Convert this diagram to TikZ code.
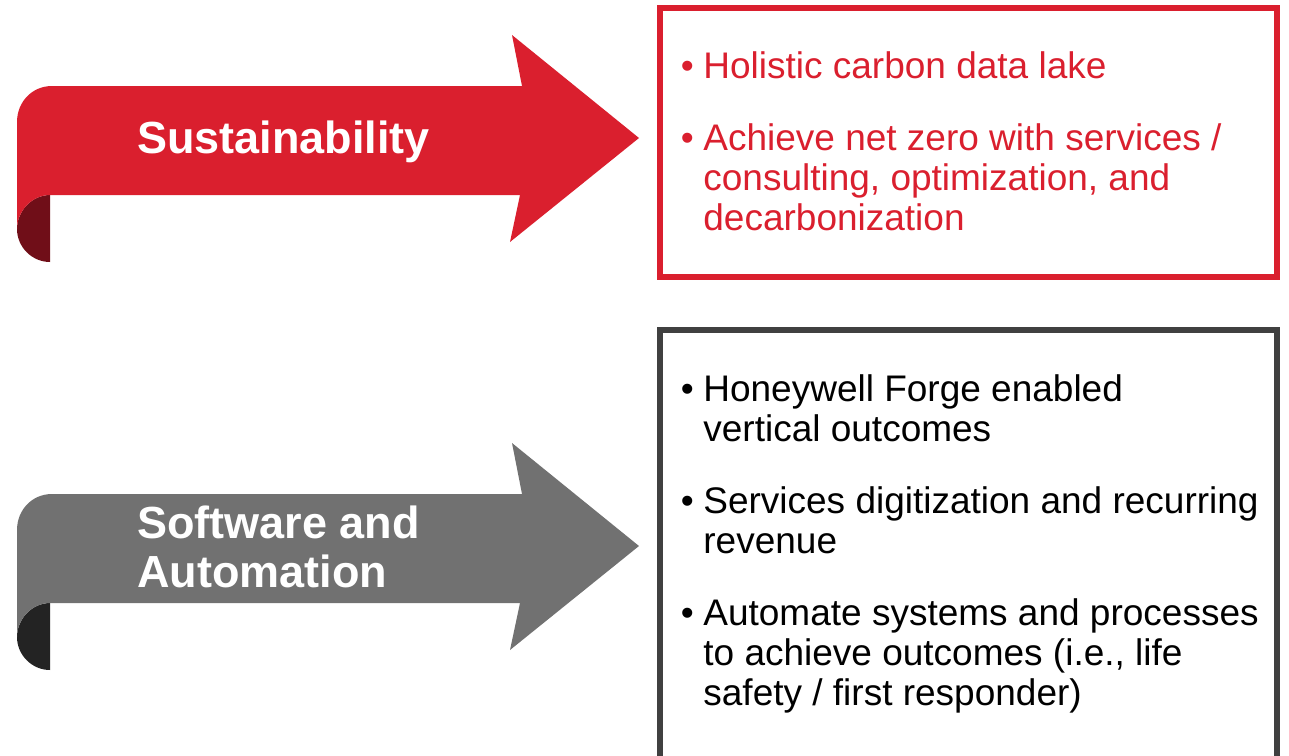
\documentclass[tikz,border=0pt]{standalone}
\usepackage{fontspec}
\setmainfont{Liberation Sans}
\definecolor{hwred}{RGB}{218,31,46}
\definecolor{hwdark}{RGB}{112,14,24}
\definecolor{arrowgray}{RGB}{113,113,113}
\definecolor{curlgray}{RGB}{35,35,35}
\definecolor{boxgray}{RGB}{64,64,64}
\newcommand{\bul}{\llap{\textbullet\hskip4.75pt}}

\begin{document}
\begin{tikzpicture}[x=0.5pt,y=-0.5pt,
    heading/.style={anchor=base west,inner sep=0pt,text=white,font=\bfseries\fontsize{22.5}{24.5}\selectfont},
    item/.style={anchor=base west,inner sep=0pt,font=\fontsize{18.5}{20}\selectfont}]
  \useasboundingbox (0,0) rectangle (1289,755);
  \clip (0,0) rectangle (1289,755);
  % ribbon arrows
  \foreach \dy/\body/\curl in {0/hwred/hwdark,408/arrowgray/curlgray}{
    \fill[\curl,shift={(0,\dy)}] (50,195) -- (50,262) .. controls (32,262) and (17,247) .. (17,229)
      .. controls (17,211) and (32,195) .. (50,195) -- cycle;
    \fill[\body,shift={(0,\dy)}] (17,229) -- (17,122) .. controls (17,102) and (32,86) .. (52,86)
      -- (522,86) -- (512,35) -- (639,138) -- (510,242) -- (520,195) -- (50,195)
      .. controls (32,195) and (17,211) .. (17,229) -- cycle;
  }
  % boxes
  \draw[hwred,line width=3pt] (659.5,8) rectangle (1277,277);
  \draw[boxgray,line width=3pt] (659.5,770) -- (659.5,330) -- (1277,330) -- (1277,770);
  \node[heading] (sustain) at (137,153) {Sustainability};
  \node[heading] (software) at (137,538) {\begin{tabular}[t]{@{}l@{}}Software and\\Automation\end{tabular}};
  \node[item,hwred] (lake) at (703,78) {\bul Holistic carbon data lake};
  \node[item,hwred] (netzero) at (703,150) {\bul\begin{tabular}[t]{@{}l@{}}Achieve net zero with services /\\consulting, optimization, and\\decarbonization\end{tabular}};
  \node[item] (forge) at (703,401) {\bul\begin{tabular}[t]{@{}l@{}}Honeywell Forge enabled\\vertical outcomes\end{tabular}};
  \node[item] (digit) at (703,513) {\bul\begin{tabular}[t]{@{}l@{}}Services digitization and recurring\\revenue\end{tabular}};
  \node[item] (automate) at (703,625) {\bul\begin{tabular}[t]{@{}l@{}}Automate systems and processes\\to achieve outcomes (i.e., life\\safety / first responder)\end{tabular}};
\end{tikzpicture}
\end{document}
